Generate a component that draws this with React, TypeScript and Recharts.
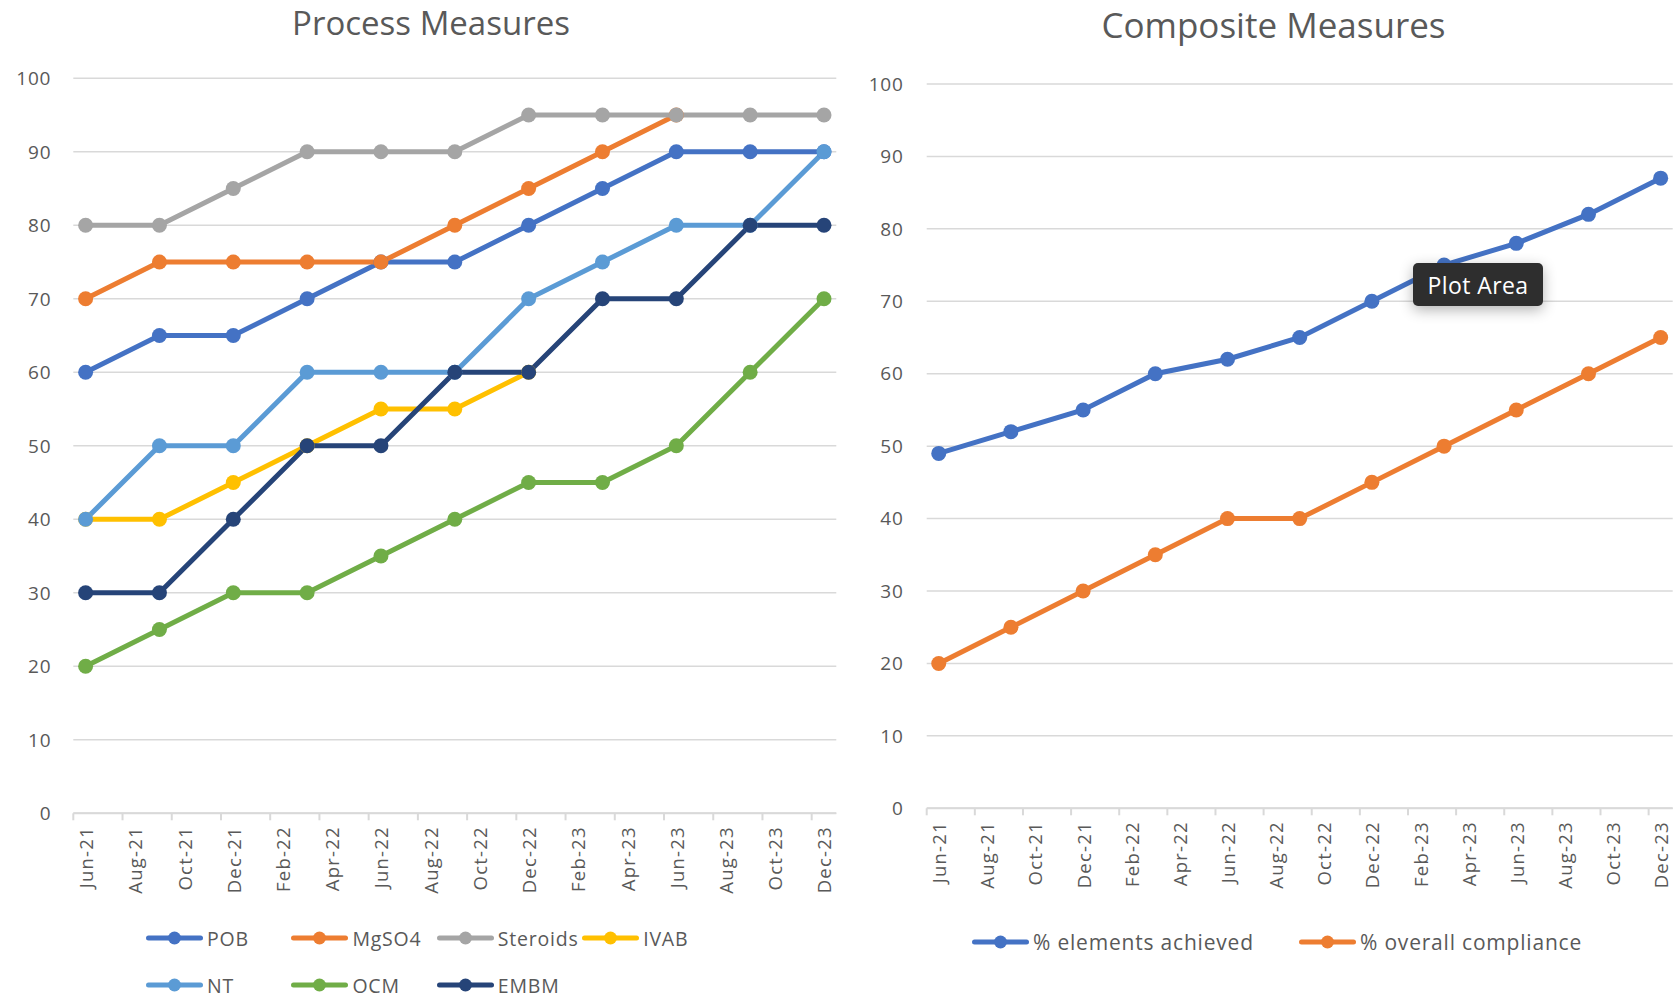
import React from "react";
import { CartesianGrid, Legend, Line, LineChart, XAxis, YAxis } from "recharts";

// quarterly points, date axis labelled every 2 months
const pointMonths = ["Jun-21", "Sep-21", "Dec-21", "Mar-22", "Jun-22", "Sep-22", "Dec-22", "Mar-23", "Jun-23", "Sep-23", "Dec-23"];
const tickLabels = ["Jun-21", "Aug-21", "Oct-21", "Dec-21", "Feb-22", "Apr-22", "Jun-22", "Aug-22", "Oct-22", "Dec-22", "Feb-23", "Apr-23", "Jun-23", "Aug-23", "Oct-23", "Dec-23"];
const yTicks = [0, 10, 20, 30, 40, 50, 60, 70, 80, 90, 100];

const pob = [60, 65, 65, 70, 75, 75, 80, 85, 90, 90, 90];
const mgso4 = [70, 75, 75, 75, 75, 80, 85, 90, 95, null, null];
const steroids = [80, 80, 85, 90, 90, 90, 95, 95, 95, 95, 95];
const ivab = [40, 40, 45, 50, 55, 55, 60, null, null, null, null];
const nt = [40, 50, 50, 60, 60, 60, 70, 75, 80, 80, 90];
const ocm = [20, 25, 30, 30, 35, 40, 45, 45, 50, 60, 70];
const embm = [30, 30, 40, 50, 50, 60, 60, 70, 70, 80, 80];

const elementsAchieved = [49, 52, 55, 60, 62, 65, 70, 75, 78, 82, 87];
const overallCompliance = [20, 25, 30, 35, 40, 40, 45, 50, 55, 60, 65];

const FONT = "'Open Sans', sans-serif";
const TEXT = "#595959";
const GRID = "#D9D9D9";

const MONTHS = ["Jan", "Feb", "Mar", "Apr", "May", "Jun", "Jul", "Aug", "Sep", "Oct", "Nov", "Dec"];
// months since Jun-21
const monthIndex = (label: string) => {
  const [mon, yr] = label.split("-");
  return (Number(yr) - 21) * 12 + MONTHS.indexOf(mon) - 5;
};
const tickMonths = tickLabels.map(monthIndex);
const labelByMonth: Record<number, string> = {};
tickLabels.forEach((l) => (labelByMonth[monthIndex(l)] = l));

const processSeries = [
  { name: "POB", color: "#4472C4", values: pob },
  { name: "MgSO4", color: "#ED7D31", values: mgso4 },
  { name: "Steroids", color: "#A5A5A5", values: steroids },
  { name: "IVAB", color: "#FFC000", values: ivab },
  { name: "NT", color: "#5B9BD5", values: nt },
  { name: "OCM", color: "#70AD47", values: ocm },
  { name: "EMBM", color: "#264478", values: embm },
];
const compositeSeries = [
  { name: "% elements achieved", color: "#4472C4", values: elementsAchieved },
  { name: "% overall compliance", color: "#ED7D31", values: overallCompliance },
];

const buildRows = (series: { name: string; values: (number | null)[] }[]) =>
  pointMonths.map((p, i) => {
    const row: Record<string, number | null> = { m: monthIndex(p) };
    series.forEach((s) => (row[s.name] = s.values[i]));
    return row;
  });

const processData = buildRows(processSeries);
const compositeData = buildRows(compositeSeries);

// keep legend in series order (recharts sorts by name otherwise)
const ordered = (payload: any[], series: { name: string }[]) =>
  series.map((s) => payload.find((p) => p.value === s.name)).filter(Boolean);

function MonthTick(props: any) {
  const { x, y, payload, monthPx } = props;
  const ty = y + 13;
  return (
    <g>
      <line x1={x - monthPx / 2} x2={x - monthPx / 2} y1={y} y2={y + 7} stroke={GRID} strokeWidth={2} />
      <text
        x={x}
        y={ty}
        transform={`rotate(-90 ${x} ${ty})`}
        textAnchor="end"
        dominantBaseline="central"
        fontFamily={FONT}
        fontSize={18.5}
        letterSpacing={1.2}
        fill={TEXT}
      >
        {labelByMonth[payload.value]}
      </text>
    </g>
  );
}

function LegendSwatch({ color }: { color: string }) {
  return (
    <svg width={57} height={18} style={{ display: "block", flex: "none" }}>
      <line x1={2.5} x2={54.5} y1={9} y2={9} stroke={color} strokeWidth={5} strokeLinecap="round" />
      <circle cx={28.5} cy={9} r={6.5} fill={color} />
    </svg>
  );
}

const legendText = (size: number, spacing: number): React.CSSProperties => ({
  marginLeft: 4,
  fontFamily: FONT,
  fontSize: size,
  letterSpacing: spacing,
  color: TEXT,
  whiteSpace: "nowrap",
});

function ProcessLegend(props: any) {
  const items = ordered(props.payload || [], processSeries);
  return (
    <div style={{ display: "grid", gridTemplateColumns: "repeat(4, 145.4px)", gridAutoRows: "46.7px" }}>
      {items.map((it: any) => (
        <div key={it.value} style={{ display: "flex", alignItems: "center" }}>
          <LegendSwatch color={it.color} />
          <span style={legendText(19.5, 0.8)}>{it.value}</span>
        </div>
      ))}
    </div>
  );
}

function CompositeLegend(props: any) {
  const items = ordered(props.payload || [], compositeSeries);
  return (
    <div style={{ display: "grid", gridTemplateColumns: "327px 340px", height: 40, alignItems: "center" }}>
      {items.map((it: any) => (
        <div key={it.value} style={{ display: "flex", alignItems: "center" }}>
          <LegendSwatch color={it.color} />
          <span style={legendText(21, 0.8)}>{it.value}</span>
        </div>
      ))}
    </div>
  );
}

const titleStyle = (left: number, width: number, top: number, size: number): React.CSSProperties => ({
  position: "absolute",
  left,
  width,
  top,
  textAlign: "center",
  fontFamily: FONT,
  fontSize: size,
  lineHeight: `${size}px`,
  color: TEXT,
});

const yTickStyle = { fontFamily: FONT, fontSize: 19, fill: TEXT, letterSpacing: 0.8 };

export default function App() {
  const leftMonthPx = (836.3 - 73.3) / 31;
  const rightMonthPx = (1672.7 - 926.7) / 31;
  return (
    <div style={{ position: "absolute", left: 0, top: 0, width: 1678, height: 999, background: "#fff", overflow: "hidden" }}>
      <div style={titleStyle(0, 862, 6, 33)}>Process Measures</div>
      <div style={titleStyle(840, 867, 7, 35)}>Composite Measures</div>

      <div style={{ position: "absolute", left: 0, top: 0 }}>
        <LineChart width={840} height={999} data={processData} margin={{ top: 78.3, right: 3.7, bottom: 85.7, left: 0 }}>
          <CartesianGrid vertical={false} stroke={GRID} strokeWidth={1.5} />
          <XAxis
            dataKey="m"
            type="number"
            domain={[-0.5, 30.5]}
            ticks={tickMonths}
            interval={0}
            height={100}
            axisLine={{ stroke: GRID, strokeWidth: 2 }}
            tickLine={false}
            tickSize={0}
            tickMargin={0}
            tick={(p: any) => <MonthTick {...p} monthPx={leftMonthPx} />}
          />
          <YAxis
            type="number"
            domain={[0, 100]}
            ticks={yTicks}
            width={73.3}
            axisLine={false}
            tickLine={false}
            tickSize={0}
            tickMargin={22}
            tick={yTickStyle}
          />
          <Legend
            verticalAlign="middle"
            content={<ProcessLegend />}
            wrapperStyle={{ left: 146, top: 915, width: 620, height: 94 }}
          />
          {processSeries.map((s) => (
            <Line
              key={s.name}
              type="linear"
              dataKey={s.name}
              name={s.name}
              stroke={s.color}
              strokeWidth={5}
              dot={{ r: 7.5, fill: s.color, stroke: s.color, strokeWidth: 0 }}
              activeDot={false}
              isAnimationActive={false}
            />
          ))}
        </LineChart>
      </div>

      <div style={{ position: "absolute", left: 840, top: 0 }}>
        <LineChart width={838} height={999} data={compositeData} margin={{ top: 84, right: 5.3, bottom: 90.7, left: 0 }}>
          <CartesianGrid vertical={false} stroke={GRID} strokeWidth={1.5} />
          <XAxis
            dataKey="m"
            type="number"
            domain={[-0.5, 30.5]}
            ticks={tickMonths}
            interval={0}
            height={100}
            axisLine={{ stroke: GRID, strokeWidth: 2 }}
            tickLine={false}
            tickSize={0}
            tickMargin={0}
            tick={(p: any) => <MonthTick {...p} monthPx={rightMonthPx} />}
          />
          <YAxis
            type="number"
            domain={[0, 100]}
            ticks={yTicks}
            width={86.7}
            axisLine={false}
            tickLine={false}
            tickSize={0}
            tickMargin={23}
            tick={yTickStyle}
          />
          <Legend
            verticalAlign="middle"
            content={<CompositeLegend />}
            wrapperStyle={{ left: 132, top: 921.7, width: 690, height: 40 }}
          />
          {compositeSeries.map((s) => (
            <Line
              key={s.name}
              type="linear"
              dataKey={s.name}
              name={s.name}
              stroke={s.color}
              strokeWidth={5}
              dot={{ r: 7.5, fill: s.color, stroke: s.color, strokeWidth: 0 }}
              activeDot={false}
              isAnimationActive={false}
            />
          ))}
        </LineChart>
      </div>

      {/* hover label captured in the screenshot */}
      <div
        style={{
          position: "absolute",
          left: 1413,
          top: 263,
          width: 130,
          height: 43,
          background: "#2e2e2e",
          borderRadius: 5,
          boxShadow: "0 4px 14px rgba(0,0,0,0.3)",
          color: "#fff",
          fontFamily: FONT,
          fontSize: 23,
          letterSpacing: 0.4,
          display: "flex",
          alignItems: "center",
          justifyContent: "center",
        }}
      >
        Plot Area
      </div>
    </div>
  );
}
